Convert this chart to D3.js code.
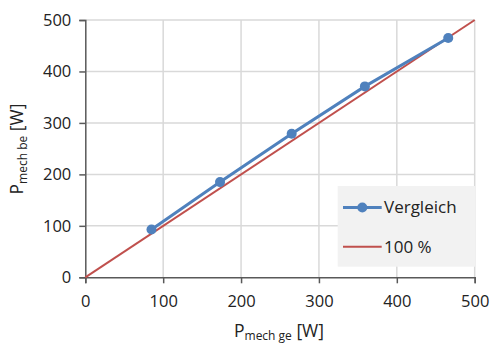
<!DOCTYPE html>
<html>
<head>
<meta charset="utf-8">
<script src="https://cdn.jsdelivr.net/npm/d3@7"></script>
<style>
  body { margin: 0; background: #fff; }
  text { font-family: "Open Sans", sans-serif; fill: #222; }
</style>
</head>
<body>
<svg id="chart"></svg>
<script>
// Measured values (Vergleich) and the 100 % reference line
var pGe = [85, 173, 265, 359, 466];
var pBe = [93, 185, 279, 371, 465];
var refLine = [0, 500];
var ticks = [0, 100, 200, 300, 400, 500];
var legendLabels = ["Vergleich", "100 %"];

var width = 490, height = 345;
var margin = {left: 85.3, right: 15.3, top: 20, bottom: 67.7};

var svg = d3.select("#chart")
  .attr("width", width)
  .attr("height", height);

var x = d3.scaleLinear().domain([0, 500]).range([margin.left, width - margin.right]);
var y = d3.scaleLinear().domain([0, 500]).range([height - margin.bottom, margin.top]);

// grid
svg.append("g")
  .selectAll("line.vg")
  .data(ticks.slice(1))
  .enter().append("line")
    .attr("x1", function(d) { return x(d); })
    .attr("x2", function(d) { return x(d); })
    .attr("y1", y(0))
    .attr("y2", y(500))
    .attr("stroke", "#d9d9d9")
    .attr("stroke-width", 1.5);

svg.append("g")
  .selectAll("line.hg")
  .data(ticks.slice(1))
  .enter().append("line")
    .attr("x1", x(0))
    .attr("x2", x(500))
    .attr("y1", function(d) { return y(d); })
    .attr("y2", function(d) { return y(d); })
    .attr("stroke", "#d9d9d9")
    .attr("stroke-width", 1.5);

// axes
var xAxis = svg.append("g")
  .attr("transform", "translate(0," + y(0) + ")")
  .call(d3.axisBottom(x).tickValues(ticks).tickSize(6).tickPadding(12));
var yAxis = svg.append("g")
  .attr("transform", "translate(" + x(0) + ",0)")
  .call(d3.axisLeft(y).tickValues(ticks).tickSize(6).tickPadding(8));

[xAxis, yAxis].forEach(function(a) {
  a.select(".domain").attr("stroke", "#595959").attr("stroke-width", 1.5);
  a.selectAll(".tick line").attr("stroke", "#595959").attr("stroke-width", 1.5);
  a.selectAll(".tick text")
    .style("font-family", "'Open Sans', sans-serif")
    .style("font-size", "16.5px")
    .attr("fill", "#1a1a1a");
});

// 100 % line
svg.append("line")
  .attr("x1", x(refLine[0]))
  .attr("y1", y(refLine[0]))
  .attr("x2", x(refLine[1]))
  .attr("y2", y(refLine[1]))
  .attr("stroke", "#c0504d")
  .attr("stroke-width", 2);

// Vergleich series
var pts = pGe.map(function(d, i) { return [d, pBe[i]]; });
svg.append("path")
  .datum(pts)
  .attr("fill", "none")
  .attr("stroke", "#4f81bd")
  .attr("stroke-width", 3)
  .attr("d", d3.line()
    .x(function(d) { return x(d[0]); })
    .y(function(d) { return y(d[1]); }));

svg.selectAll("circle.pt")
  .data(pts)
  .enter().append("circle")
    .attr("class", "pt")
    .attr("cx", function(d) { return x(d[0]); })
    .attr("cy", function(d) { return y(d[1]); })
    .attr("r", 5)
    .attr("fill", "#4f81bd");

// legend
var lg = svg.append("g");
lg.append("rect")
  .attr("x", 337.7)
  .attr("y", 186)
  .attr("width", 137.6)
  .attr("height", 80.7)
  .attr("fill", "#f2f2f2");

var items = lg.selectAll("g.item")
  .data(legendLabels)
  .enter().append("g")
    .attr("transform", function(d, i) { return "translate(343," + (207.5 + i * 39.3) + ")"; });

items.append("line")
  .attr("x1", 0).attr("x2", 38.7)
  .attr("y1", 0).attr("y2", 0)
  .attr("stroke", function(d, i) { return i == 0 ? "#4f81bd" : "#c0504d"; })
  .attr("stroke-width", function(d, i) { return i == 0 ? 3 : 2; });

items.filter(function(d, i) { return i == 0; })
  .append("circle")
    .attr("cx", 19.3)
    .attr("cy", 0)
    .attr("r", 5)
    .attr("fill", "#4f81bd");

items.append("text")
  .attr("x", 41)
  .attr("y", 0)
  .attr("dy", "0.35em")
  .style("font-size", "17px")
  .text(function(d) { return d; });

// axis titles
var xt = svg.append("text")
  .attr("x", 279)
  .attr("y", 337)
  .attr("text-anchor", "middle")
  .style("font-size", "17.5px");
xt.append("tspan").text("P");
xt.append("tspan").attr("dy", 3).style("font-size", "12px").text("mech ge");
xt.append("tspan").attr("dy", -3).text(" [W]");

var yt = svg.append("text")
  .attr("transform", "translate(23,149) rotate(-90)")
  .attr("text-anchor", "middle")
  .style("font-size", "17.5px");
yt.append("tspan").text("P");
yt.append("tspan").attr("dy", 4).style("font-size", "12px").text("mech be");
yt.append("tspan").attr("dy", -4).text(" [W]");
</script>
</body>
</html>
